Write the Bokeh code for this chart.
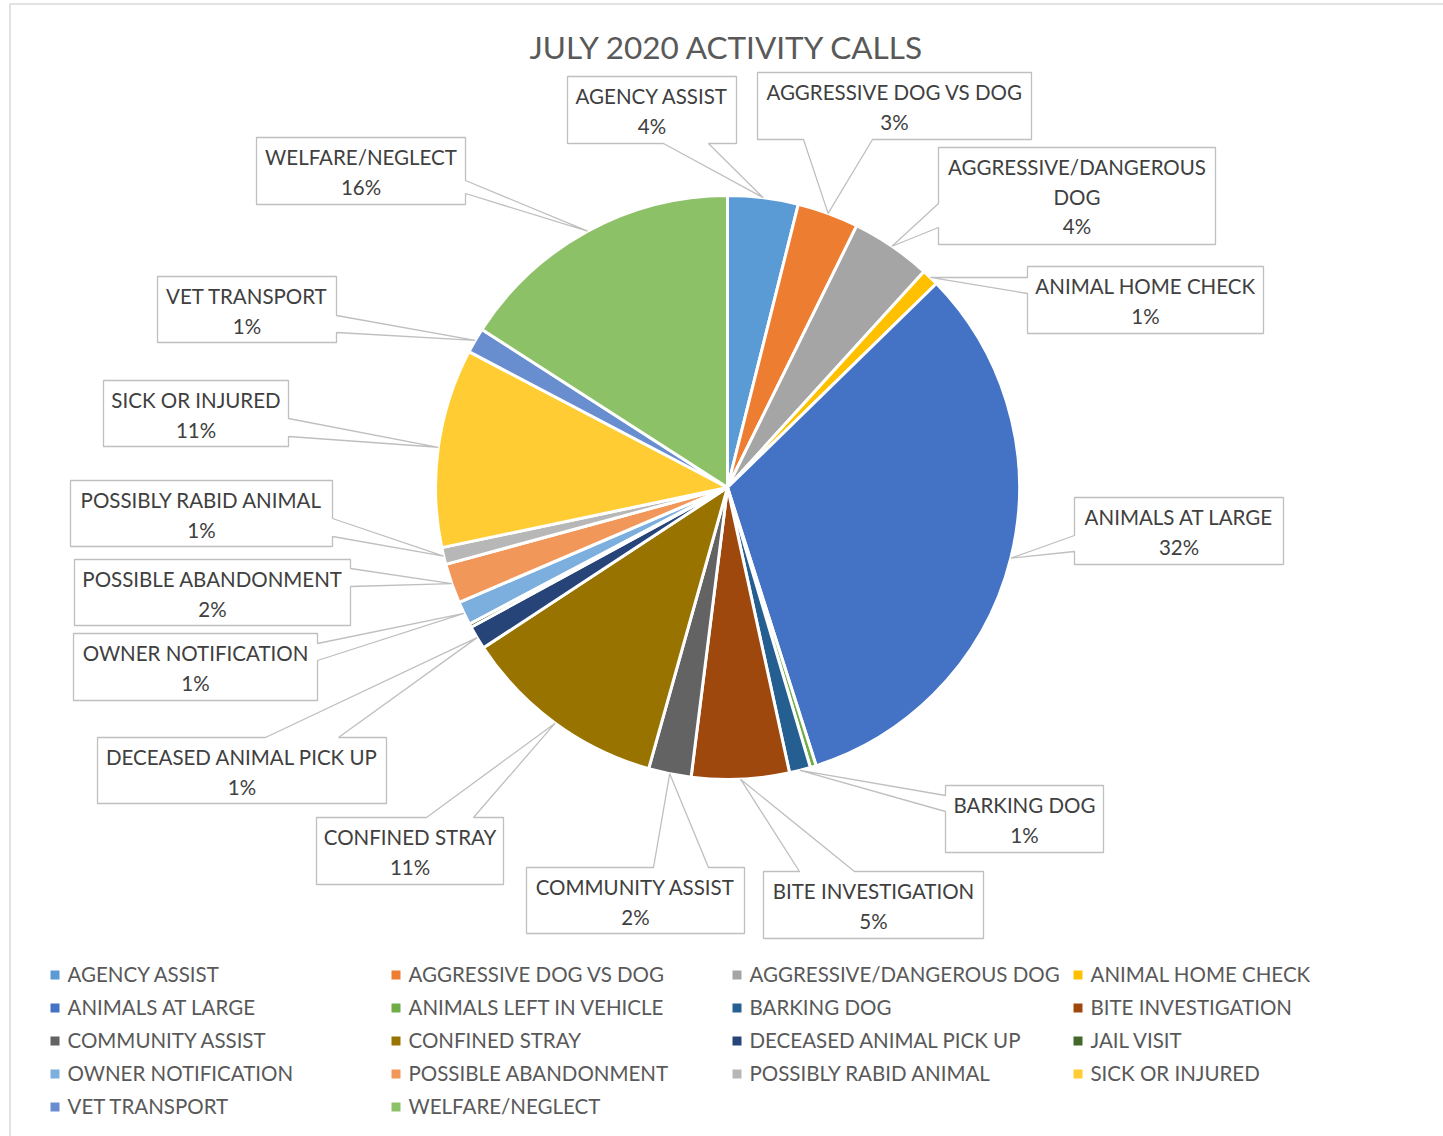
import math
from bokeh.plotting import figure
from bokeh.models import Range1d, ColumnDataSource
from bokeh.core.properties import value
from bokeh.embed import file_html
from bokeh.resources import INLINE

# ---------------- data ----------------
title = "JULY 2020 ACTIVITY CALLS"
categories = [
    "AGENCY ASSIST", "AGGRESSIVE DOG VS DOG", "AGGRESSIVE/DANGEROUS DOG",
    "ANIMAL HOME CHECK", "ANIMALS AT LARGE", "ANIMALS LEFT IN VEHICLE",
    "BARKING DOG", "BITE INVESTIGATION", "COMMUNITY ASSIST", "CONFINED STRAY",
    "DECEASED ANIMAL PICK UP", "JAIL VISIT", "OWNER NOTIFICATION",
    "POSSIBLE ABANDONMENT", "POSSIBLY RABID ANIMAL", "SICK OR INJURED",
    "VET TRANSPORT", "WELFARE/NEGLECT",
]
# share of calls (%)
shares = [3.9, 3.4, 4.45, 0.94, 32.4, 0.33, 1.17, 5.4, 2.36, 11.4,
          1.31, 0.2, 1.3, 2.2, 0.94, 11.0, 1.4, 15.9]
colors = ["#5B9BD5", "#ED7D31", "#A5A5A5", "#FFC000", "#4472C4", "#70AD47",
          "#255E91", "#9E480E", "#636363", "#997300", "#264478", "#43682B",
          "#7CAFDD", "#F1975A", "#B7B7B7", "#FFCD33", "#698ED0", "#8CC168"]

# callout label lines (None = no callout shown)
label_names = [
    ["AGENCY ASSIST"], ["AGGRESSIVE DOG VS DOG"], ["AGGRESSIVE/DANGEROUS", "DOG"],
    ["ANIMAL HOME CHECK"], ["ANIMALS AT LARGE"], None,
    ["BARKING DOG"], ["BITE INVESTIGATION"], ["COMMUNITY ASSIST"], ["CONFINED STRAY"],
    ["DECEASED ANIMAL PICK UP"], None, ["OWNER NOTIFICATION"],
    ["POSSIBLE ABANDONMENT"], ["POSSIBLY RABID ANIMAL"], ["SICK OR INJURED"],
    ["VET TRANSPORT"], ["WELFARE/NEGLECT"],
]

# ---------------- layout (page pixel coordinates) ----------------
CX, CY, R = 727, 487, 292
# callout boxes: (x0, y0, x1, y1, side, base0, base1)
callout_layout = [
    (567, 76, 736, 143, "bottom", 663, 708),
    (757, 72, 1031, 139, "bottom", 803, 872),
    (938, 147, 1215, 244, "left", 203, 227),
    (1027, 266, 1263, 333, "left", 277, 293),
    (1074, 497, 1283, 564, "left", 535, 551),
    None,
    (945, 785, 1103, 852, "left", 795, 811),
    (763, 871, 983, 938, "top", 799, 854),
    (526, 867, 744, 933, "top", 653, 708),
    (316, 817, 503, 884, "top", 426, 473),
    (97, 737, 386, 803, "top", 265, 338),
    None,
    (73, 633, 317, 700, "right", 643, 660),
    (74, 559, 350, 625, "right", 568, 586),
    (70, 480, 332, 546, "right", 518, 536),
    (103, 380, 288, 446, "right", 418, 436),
    (157, 276, 336, 342, "right", 315, 332),
    (256, 137, 465, 204, "right", 180, 193),
]
legend_cols_x = [50, 391, 732, 1073]
legend_rows_y = [973.5, 1006.5, 1039.5, 1072.5, 1105.5]

FONT = "Lato"
LABEL_SIZE = "20.5px"
W, H = 1443, 1136

def Y(y):
    return -y

p = figure(width=W, height=H, x_range=Range1d(0, W), y_range=Range1d(-H, 0),
           output_backend="svg", toolbar_location=None, min_border=0,
           x_axis_type=None, y_axis_type=None)
p.grid.visible = False
p.outline_line_color = None
p.background_fill_color = "white"
p.border_fill_color = "white"

# chart area border
p.line(x=[W, 9.5, 9.5], y=[Y(3.5), Y(3.5), Y(H)], line_color="#D9D9D9", line_width=1.5)

# ---------------- pie ----------------
total = sum(shares)
starts, ends, mids = [], [], []
cum = 0.0
for v in shares:
    f0 = cum / total
    cum += v
    f1 = cum / total
    starts.append(math.pi / 2 - 2 * math.pi * f0)
    ends.append(math.pi / 2 - 2 * math.pi * f1)
    mids.append(2 * math.pi * (f0 + f1) / 2)  # clockwise from 12 o'clock

src = ColumnDataSource(dict(x=[CX] * len(shares), y=[Y(CY)] * len(shares),
                            s=starts, e=ends, c=colors))
p.wedge(x="x", y="y", radius=R, start_angle="s", end_angle="e", direction="clock",
        fill_color="c", line_color="white", line_width=3, source=src)

# ---------------- callouts ----------------
xs, ys = [], []
tx, ty, tt = [], [], []
for i, lay in enumerate(callout_layout):
    if lay is None or label_names[i] is None:
        continue
    x0, y0, x1, y1, side, b0, b1 = lay
    ax = CX + R * math.sin(mids[i])
    ay = CY - R * math.cos(mids[i])
    if side == "top":
        pts = [(x0, y0), (b0, y0), (ax, ay), (b1, y0), (x1, y0), (x1, y1), (x0, y1)]
    elif side == "right":
        pts = [(x0, y0), (x1, y0), (x1, b0), (ax, ay), (x1, b1), (x1, y1), (x0, y1)]
    elif side == "bottom":
        pts = [(x0, y0), (x1, y0), (x1, y1), (b1, y1), (ax, ay), (b0, y1), (x0, y1)]
    else:
        pts = [(x0, y0), (x1, y0), (x1, y1), (x0, y1), (x0, b1), (ax, ay), (x0, b0)]
    xs.append([pt[0] for pt in pts])
    ys.append([Y(pt[1]) for pt in pts])
    lines = list(label_names[i]) + ["%d%%" % round(shares[i] / total * 100)]
    xc = (x0 + x1) / 2
    for k, t in enumerate(lines):
        tx.append(xc)
        ty.append(Y(y0 + 19.5 + 29.5 * k))
        tt.append(t)

p.patches(xs=xs, ys=ys, fill_color="white", line_color="#BFBFBF", line_width=1.3)
p.text(x=tx, y=ty, text=tt, text_align="center", text_baseline="middle",
       text_font=value(FONT), text_font_size=value(LABEL_SIZE), text_color="#404040")

# ---------------- title ----------------
p.text(x=[CX], y=[Y(46)], text=[title], text_align="center", text_baseline="middle",
       text_font=value(FONT), text_font_size=value("31.5px"), text_color="#595959")

# ---------------- legend ----------------
lx, ly, lc, ltx, lty, lt = [], [], [], [], [], []
for i, name in enumerate(categories):
    col, row = i % 4, i // 4
    mx = legend_cols_x[col]
    my = legend_rows_y[row]
    lx.append(mx + 4.5)
    ly.append(Y(my + 1))
    lc.append(colors[i])
    ltx.append(mx + 17)
    lty.append(Y(my))
    lt.append(name)
p.rect(x=lx, y=ly, width=9, height=9, fill_color=lc, line_color=None)
p.text(x=ltx, y=lty, text=lt, text_align="left", text_baseline="middle",
       text_font=value(FONT), text_font_size=value(LABEL_SIZE), text_color="#595959")

open("out.html", "w").write(file_html(p, INLINE))
